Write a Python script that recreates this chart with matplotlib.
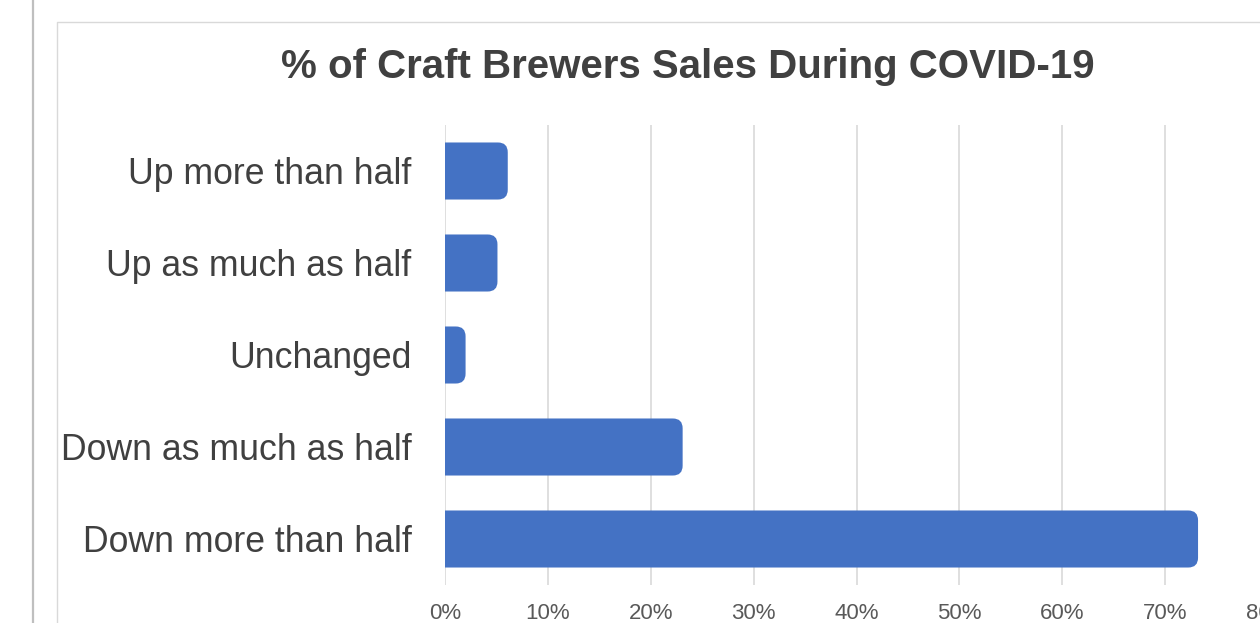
import numpy as np
import matplotlib
matplotlib.use("Agg")
import matplotlib.pyplot as plt
from matplotlib.patches import FancyBboxPatch
from matplotlib.lines import Line2D
from matplotlib.ticker import FuncFormatter

# survey answers, bottom to top
categories = ["Down more than half", "Down as much as half", "Unchanged",
              "Up as much as half", "Up more than half"]
shares = [73.2, 23.1, 2.0, 5.1, 6.1]
xticks = [0, 10, 20, 30, 40, 50, 60, 70, 80]

bar_color = "#4472C4"
text_color = "#404040"
grid_color = "#d9d9d9"

plt.rcParams["font.family"] = ["Liberation Sans", "DejaVu Sans"]

fig = plt.figure(figsize=(12.6, 6.23), dpi=100)
W, H = 1260, 623

# axes box in pixels: x from 445 to 1268, y from 125 to 585
ax = fig.add_axes([445 / W, 1 - 585 / H, 823 / W, 460 / H])

y = np.arange(len(categories))
bars = ax.barh(y, shares, height=0.62, color=bar_color)

ax.set_xlim(0, 80)
ax.set_ylim(-0.5, 4.5)

# swap plain bars for ones with rounded right ends; the left end starts
# behind the axis and gets clipped, so only the right corners show round
aspect = (823 / 80) / (460 / 5)
for b in bars:
    x0, y0 = b.get_x(), b.get_y()
    w, h = b.get_width(), b.get_height()
    b.set_visible(False)
    ax.add_patch(FancyBboxPatch((x0 - 1.5, y0), w + 1.5, h,
                                boxstyle="round,pad=0,rounding_size=0.95",
                                mutation_aspect=aspect, fc=bar_color, ec="none", zorder=3))

ax.set_xticks(xticks)
ax.xaxis.set_major_formatter(FuncFormatter(lambda v, p: f"{v:.0f}%"))
ax.set_yticks(y)
ax.set_yticklabels(categories)
ax.tick_params(axis="x", length=0, pad=13, labelsize=16, labelcolor="#595959")
ax.tick_params(axis="y", length=0, pad=24, labelsize=25.7, labelcolor=text_color)

ax.grid(axis="x", color=grid_color, lw=1.2, zorder=0)
ax.set_axisbelow(True)
for s in ax.spines.values():
    s.set_visible(False)

fig.text(688 / W, 1 - 67 / H, "% of Craft Brewers Sales During COVID-19",
         ha="center", va="center", fontsize=29, fontweight="bold", color=text_color)

# page edge and chart frame
fig.add_artist(Line2D([33 / W, 33 / W], [0, 1], color="#bfbfbf", lw=1.6))
fig.add_artist(Line2D([57 / W, 57 / W, 1], [0, 1 - 22 / H, 1 - 22 / H],
                      color=grid_color, lw=1.0))

fig.savefig("out.png", dpi=100)
